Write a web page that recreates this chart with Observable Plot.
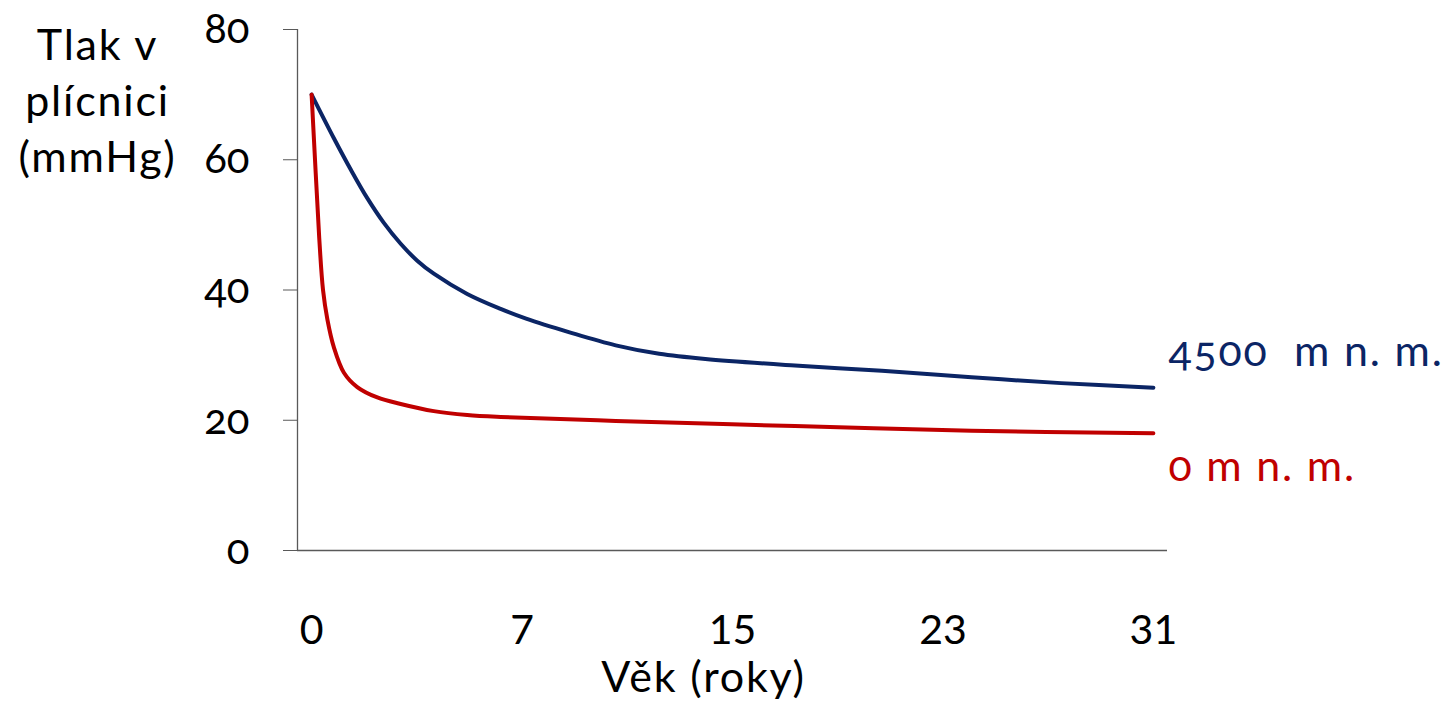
<!DOCTYPE html>
<html><head><meta charset="utf-8">
<script src="https://cdn.jsdelivr.net/npm/d3@7"></script>
<script src="https://cdn.jsdelivr.net/npm/@observablehq/plot@0.6"></script>
<style>
body{margin:0;background:#fff}
.onum text{font-variant-numeric: oldstyle-nums;}
.wide text{letter-spacing: 1.8px;}
</style>
</head><body><div id="chart"></div>
<script>
// Series 1: 4500 m n. m.
const highX    = [0, 0.82, 1.44, 2.05, 2.66, 3.28, 3.89, 4.5, 5.73, 6.96, 7.9, 9.5, 11.2, 12.8, 14.5, 17.8, 21, 24.3, 27.6, 31];
const highVals = [70, 63.3, 58.5, 54.1, 50.3, 47.1, 44.5, 42.5, 39.4, 37.1, 35.6, 33.5, 31.5, 30.2, 29.4, 28.4, 27.6, 26.6, 25.7, 25.0];
// Series 2: 0 m n. m.
const seaX     = [0, 0.15, 0.28, 0.42, 0.58, 0.82, 1.19, 1.68, 2.42, 3.28, 4.5, 5.73, 6.96, 11.2, 17.8, 24.3, 31];
const seaVals  = [70, 58, 48, 40, 35.5, 31.2, 27.3, 25.1, 23.5, 22.5, 21.4, 20.8, 20.5, 19.9, 19.1, 18.4, 18.0];

const seriesNames  = ["4500\u00a0\u00a0m n. m.", "0 m n. m."];
const seriesColors = ["#0b2565", "#c00000"];

const xDomain     = [-0.52, 31.52];
const xTickPos    = [0, 7.75, 15.5, 23.25, 31];
const xTickLabels = ["0", "7", "15", "23", "31"];
const yTicks      = [0, 20, 40, 60, 80];
const xTitle = "Věk (roky)";
const yTitle = "Tlak v\nplícnici\n(mmHg)";

const highRows = highX.map((x, i) => ({series: seriesNames[0], x, y: highVals[i]}));
const seaRows  = seaX.map((x, i) => ({series: seriesNames[1], x, y: seaVals[i]}));
const lastPoints = [highRows[highRows.length - 1], seaRows[seaRows.length - 1]];

const chart = Plot.plot({
  width: 1444, height: 704,
  marginLeft: 297, marginRight: 277, marginTop: 29, marginBottom: 154,
  x: {domain: xDomain},
  y: {domain: [0, 80]},
  color: {domain: seriesNames, range: seriesColors},
  style: {fontFamily: "Lato, 'Open Sans', sans-serif", fontSize: "41px", color: "#000", background: "#fff"},
  marks: [
    Plot.axisY({ticks: yTicks, tickSize: 14, tickPadding: 34, label: null, stroke: "#595959", fill: "#000", fontSize: 42, className: "onum"}),
    Plot.axisX({ticks: xTickPos, tickFormat: d => xTickLabels[xTickPos.indexOf(d)], tickSize: 0, tickPadding: 64, label: null, fill: "#000", fontSize: 41}),
    Plot.ruleX([xDomain[0]], {stroke: "#595959", strokeWidth: 1.3}),
    Plot.ruleY([0], {stroke: "#595959", strokeWidth: 1.3}),
    Plot.line(highRows, {x: "x", y: "y", stroke: "series", strokeWidth: 4, curve: "catmull-rom", strokeLinecap: "round", strokeLinejoin: "round"}),
    Plot.line(seaRows, {x: "x", y: "y", stroke: "series", strokeWidth: 4, curve: "catmull-rom", strokeLinecap: "round", strokeLinejoin: "round"}),
    Plot.text(lastPoints.slice(0, 1), {x: "x", y: "y", text: "series", fill: "series", textAnchor: "start", fontSize: 43, dx: 15, dy: -35, className: "onum wide"}),
    Plot.text(lastPoints.slice(1, 2), {x: "x", y: "y", text: "series", fill: "series", textAnchor: "start", fontSize: 43, dx: 15, dy: 34, className: "onum wide"}),
    Plot.text([xTitle], {frameAnchor: "bottom", dx: -29, dy: 141, fill: "#000", fontSize: 43, className: "wide"}),
    Plot.text([yTitle], {frameAnchor: "top-left", textAnchor: "middle", lineAnchor: "top", lineHeight: 1.31, dx: -200, dy: -10, fill: "#000", fontSize: 43, className: "wide"})
  ]
});
document.getElementById("chart").appendChild(chart);
</script>
</body></html>
